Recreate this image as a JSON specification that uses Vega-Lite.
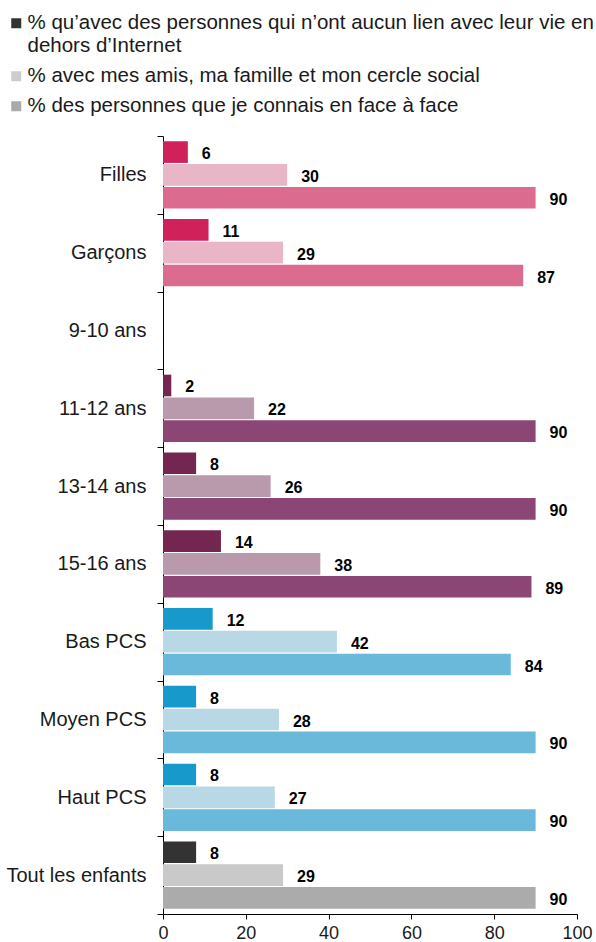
{
  "$schema": "https://vega.github.io/schema/vega-lite/v6.json",
  "width": 414,
  "height": 778,
  "autosize": "none",
  "padding": {"left": 163, "top": 136, "right": 19, "bottom": 28},
  "background": "white",
  "config": {"view": {"stroke": null}, "font": "Liberation Sans"},
  "data": {
    "values": [
      {"cat": "Filles", "key": "Genre 1", "serie": "% qu’avec des personnes qui n’ont aucun lien avec leur vie en dehors d’Internet", "value": 6},
      {"cat": "Filles", "key": "Genre 2", "serie": "% avec mes amis, ma famille et mon cercle social", "value": 30},
      {"cat": "Filles", "key": "Genre 3", "serie": "% des personnes que je connais en face à face", "value": 90},
      {"cat": "Garçons", "key": "Genre 1", "serie": "% qu’avec des personnes qui n’ont aucun lien avec leur vie en dehors d’Internet", "value": 11},
      {"cat": "Garçons", "key": "Genre 2", "serie": "% avec mes amis, ma famille et mon cercle social", "value": 29},
      {"cat": "Garçons", "key": "Genre 3", "serie": "% des personnes que je connais en face à face", "value": 87},
      {"cat": "11-12 ans", "key": "Age 1", "serie": "% qu’avec des personnes qui n’ont aucun lien avec leur vie en dehors d’Internet", "value": 2},
      {"cat": "11-12 ans", "key": "Age 2", "serie": "% avec mes amis, ma famille et mon cercle social", "value": 22},
      {"cat": "11-12 ans", "key": "Age 3", "serie": "% des personnes que je connais en face à face", "value": 90},
      {"cat": "13-14 ans", "key": "Age 1", "serie": "% qu’avec des personnes qui n’ont aucun lien avec leur vie en dehors d’Internet", "value": 8},
      {"cat": "13-14 ans", "key": "Age 2", "serie": "% avec mes amis, ma famille et mon cercle social", "value": 26},
      {"cat": "13-14 ans", "key": "Age 3", "serie": "% des personnes que je connais en face à face", "value": 90},
      {"cat": "15-16 ans", "key": "Age 1", "serie": "% qu’avec des personnes qui n’ont aucun lien avec leur vie en dehors d’Internet", "value": 14},
      {"cat": "15-16 ans", "key": "Age 2", "serie": "% avec mes amis, ma famille et mon cercle social", "value": 38},
      {"cat": "15-16 ans", "key": "Age 3", "serie": "% des personnes que je connais en face à face", "value": 89},
      {"cat": "Bas PCS", "key": "PCS 1", "serie": "% qu’avec des personnes qui n’ont aucun lien avec leur vie en dehors d’Internet", "value": 12},
      {"cat": "Bas PCS", "key": "PCS 2", "serie": "% avec mes amis, ma famille et mon cercle social", "value": 42},
      {"cat": "Bas PCS", "key": "PCS 3", "serie": "% des personnes que je connais en face à face", "value": 84},
      {"cat": "Moyen PCS", "key": "PCS 1", "serie": "% qu’avec des personnes qui n’ont aucun lien avec leur vie en dehors d’Internet", "value": 8},
      {"cat": "Moyen PCS", "key": "PCS 2", "serie": "% avec mes amis, ma famille et mon cercle social", "value": 28},
      {"cat": "Moyen PCS", "key": "PCS 3", "serie": "% des personnes que je connais en face à face", "value": 90},
      {"cat": "Haut PCS", "key": "PCS 1", "serie": "% qu’avec des personnes qui n’ont aucun lien avec leur vie en dehors d’Internet", "value": 8},
      {"cat": "Haut PCS", "key": "PCS 2", "serie": "% avec mes amis, ma famille et mon cercle social", "value": 27},
      {"cat": "Haut PCS", "key": "PCS 3", "serie": "% des personnes que je connais en face à face", "value": 90},
      {"cat": "Tout les enfants", "key": "Tous 1", "serie": "% qu’avec des personnes qui n’ont aucun lien avec leur vie en dehors d’Internet", "value": 8},
      {"cat": "Tout les enfants", "key": "Tous 2", "serie": "% avec mes amis, ma famille et mon cercle social", "value": 29},
      {"cat": "Tout les enfants", "key": "Tous 3", "serie": "% des personnes que je connais en face à face", "value": 90}
    ]
  },
  "encoding": {
    "x": {
      "field": "value",
      "type": "quantitative",
      "scale": {"domain": [0, 100], "nice": false},
      "axis": {
        "title": null,
        "values": [0, 20, 40, 60, 80, 100],
        "grid": false,
        "domainColor": "#000000",
        "tickColor": "#000000",
        "tickSize": 5,
        "labelFontSize": 18,
        "labelColor": "#1a1a1a",
        "labelPadding": 5,
        "labelFlush": false
      }
    },
    "y": {
      "field": "cat",
      "type": "nominal",
      "sort": ["Filles", "Garçons", "9-10 ans", "11-12 ans", "13-14 ans", "15-16 ans", "Bas PCS", "Moyen PCS", "Haut PCS", "Tout les enfants"],
      "scale": {
        "domain": ["Filles", "Garçons", "9-10 ans", "11-12 ans", "13-14 ans", "15-16 ans", "Bas PCS", "Moyen PCS", "Haut PCS", "Tout les enfants"],
        "paddingInner": 0,
        "paddingOuter": 0
      },
      "axis": {
        "title": null,
        "ticks": true,
        "tickBand": "extent",
        "domainColor": "#000000",
        "tickColor": "#000000",
        "tickSize": 6,
        "labelFontSize": 20,
        "labelColor": "#1a1a1a",
        "labelPadding": 11,
        "labelBaseline": "middle"
      }
    },
    "yOffset": {
      "field": "serie",
      "type": "nominal",
      "sort": ["% qu’avec des personnes qui n’ont aucun lien avec leur vie en dehors d’Internet", "% avec mes amis, ma famille et mon cercle social", "% des personnes que je connais en face à face"],
      "scale": {"paddingInner": 0.05, "paddingOuter": 0.23}
    }
  },
  "layer": [
    {
      "mark": {"type": "bar"},
      "encoding": {
        "fill": {
          "field": "key",
          "type": "nominal",
          "legend": null,
          "scale": {
            "domain": ["Genre 1", "Genre 2", "Genre 3", "Age 1", "Age 2", "Age 3", "PCS 1", "PCS 2", "PCS 3", "Tous 1", "Tous 2", "Tous 3"],
            "range": ["#D0215B", "#E8B6C6", "#DB6C8F", "#722650", "#B89AAC", "#8C4675", "#1799CC", "#B7D8E4", "#6AB9DA", "#333333", "#C9C9C9", "#ABABAB"]
          }
        }
      }
    },
    {
      "mark": {"type": "square", "opacity": 0},
      "encoding": {
        "color": {
          "field": "serie",
          "type": "nominal",
          "scale": {
            "domain": ["% qu’avec des personnes qui n’ont aucun lien avec leur vie en dehors d’Internet", "% avec mes amis, ma famille et mon cercle social", "% des personnes que je connais en face à face"],
            "range": ["#333333", "#cccccc", "#aaaaaa"]
          },
          "legend": {
            "title": null,
            "orient": "none",
            "legendX": -157,
            "legendY": -123,
            "padding": 0,
            "symbolType": "square",
            "symbolSize": 100,
            "symbolOpacity": 1,
            "symbolStrokeWidth": 0,
            "labelFontSize": 20.5,
            "labelFont": "Liberation Sans",
            "labelColor": "#1a1a1a",
            "labelLimit": 700,
            "labelOffset": 1,
            "rowPadding": 9,
            "labelExpr": "datum.label == '% qu’avec des personnes qui n’ont aucun lien avec leur vie en dehors d’Internet' ? ['% qu’avec des personnes qui n’ont aucun lien avec leur vie en', 'dehors d’Internet'] : datum.label"
          }
        }
      }
    },
    {
      "mark": {"type": "text", "align": "left", "baseline": "middle", "dx": 14, "dy": 2, "fontSize": 16, "fontWeight": "bold", "color": "#000000"},
      "encoding": {"text": {"field": "value", "type": "quantitative"}}
    }
  ]
}
